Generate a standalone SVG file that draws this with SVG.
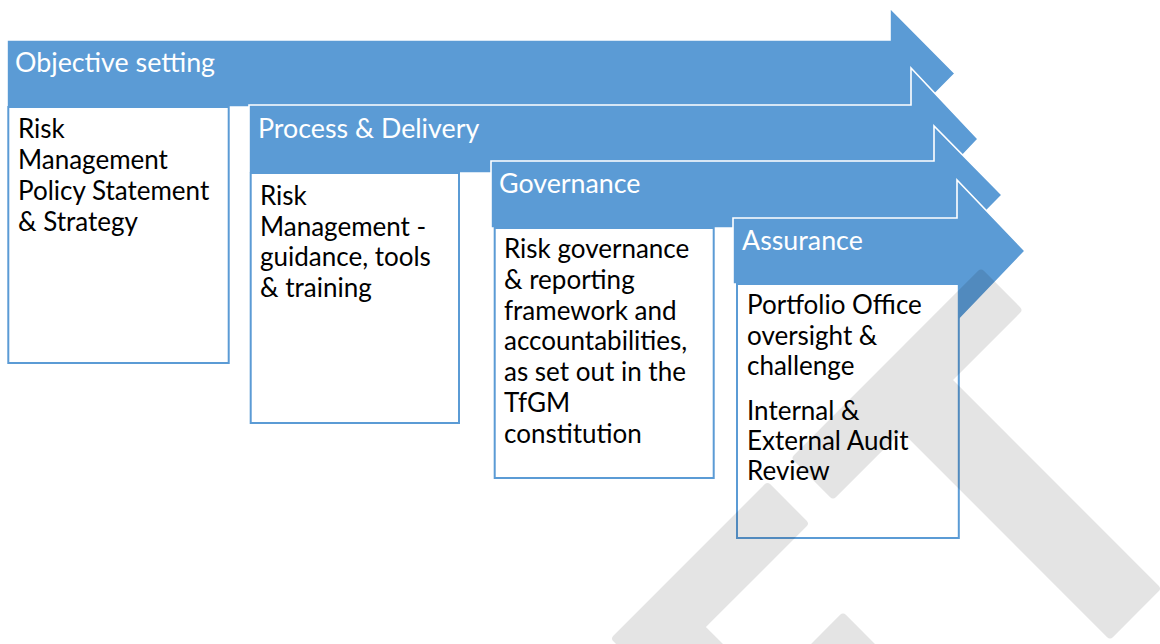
<svg xmlns="http://www.w3.org/2000/svg" width="1160" height="644" viewBox="0 0 1160 644">
  <style>
    .arrow { fill: #5B9BD5; stroke: #FFFFFF; stroke-width: 1.6; stroke-linejoin: miter; }
    .box { fill: #FFFFFF; stroke: #5B9BD5; stroke-width: 2; }
    .title { font-family: Lato, "Open Sans", "Liberation Sans", sans-serif; font-size: 26.8px; fill: #FFFFFF; }
    .body { font-family: Lato, "Open Sans", "Liberation Sans", sans-serif; font-size: 26px; fill: #000000; }
    .mark { fill: #000000; stroke: #000000; stroke-width: 8; stroke-linejoin: round; }
  </style>
  <rect width="1160" height="644" fill="#FFFFFF"/>

  <!-- Stage 1 -->
  <g id="objective-setting">
    <path class="arrow" d="M7,40 H890 V8 L955,73.5 L890,139 V107 H7 Z"/>
    <rect class="box" x="8.3" y="107" width="220.4" height="256"/>
    <text class="title" x="15" y="72">Objective setting</text>
    <text class="body" x="18" y="138">Risk</text>
    <text class="body" x="18" y="169">Management</text>
    <text class="body" x="18" y="200">Policy Statement</text>
    <text class="body" x="18" y="231">&amp; Strategy</text>
  </g>

  <!-- Stage 2 -->
  <g id="process-delivery">
    <path class="arrow" d="M249,105 H911 V68 L978,139 L911,210 V173 H249 Z"/>
    <rect class="box" x="250.7" y="173" width="208.3" height="250"/>
    <text class="title" x="258" y="138">Process &amp; Delivery</text>
    <text class="body" x="260" y="205">Risk</text>
    <text class="body" x="260" y="236">Management -</text>
    <text class="body" x="260" y="266">guidance, tools</text>
    <text class="body" x="260" y="297">&amp; training</text>
  </g>

  <!-- Stage 3 -->
  <g id="governance">
    <path class="arrow" d="M491,161 H934 V126 L1002,195 L934,264 V228 H491 Z"/>
    <rect class="box" x="494.7" y="228" width="219" height="250"/>
    <text class="title" x="499" y="193">Governance</text>
    <text class="body" x="504" y="258">Risk governance</text>
    <text class="body" x="504" y="289">&amp; reporting</text>
    <text class="body" x="504" y="320">framework and</text>
    <text class="body" x="504" y="350">accountabilities,</text>
    <text class="body" x="504" y="381">as set out in the</text>
    <text class="body" x="504" y="412">TfGM</text>
    <text class="body" x="504" y="443">constitution</text>
  </g>

  <!-- Stage 4 -->
  <g id="assurance">
    <path class="arrow" d="M733,218 H957 V180 L1025,251 L957,322 V284 H733 Z"/>
    <rect class="box" x="737" y="284" width="221.8" height="254"/>
    <text class="title" x="742" y="250">Assurance</text>
    <text class="body" x="747" y="314">Portfolio Office</text>
    <text class="body" x="747" y="345">oversight &amp;</text>
    <text class="body" x="747" y="375">challenge</text>
    <text class="body" x="747" y="420">Internal &amp;</text>
    <text class="body" x="747" y="450">External Audit</text>
    <text class="body" x="747" y="480">Review</text>
  </g>

  <!-- translucent background mark laid over the lower right -->
  <g id="mark" opacity="0.1">
    <path class="mark" d="M981,273.7 L1017.3,310 L833,494.3 L796.7,458 Z"/>
    <path class="mark" d="M947.2,379.9 L1155.8,588.5 L1110,634.3 L901.4,425.7 Z"/>
    <path class="mark" d="M767.5,487.2 L803.8,523.5 L700.3,627 L745.3,672 L649.7,672 L616.2,638.5 Z"/>
    <path class="mark" d="M843,617.7 L897.3,672 L788.7,672 Z"/>
  </g>
</svg>
